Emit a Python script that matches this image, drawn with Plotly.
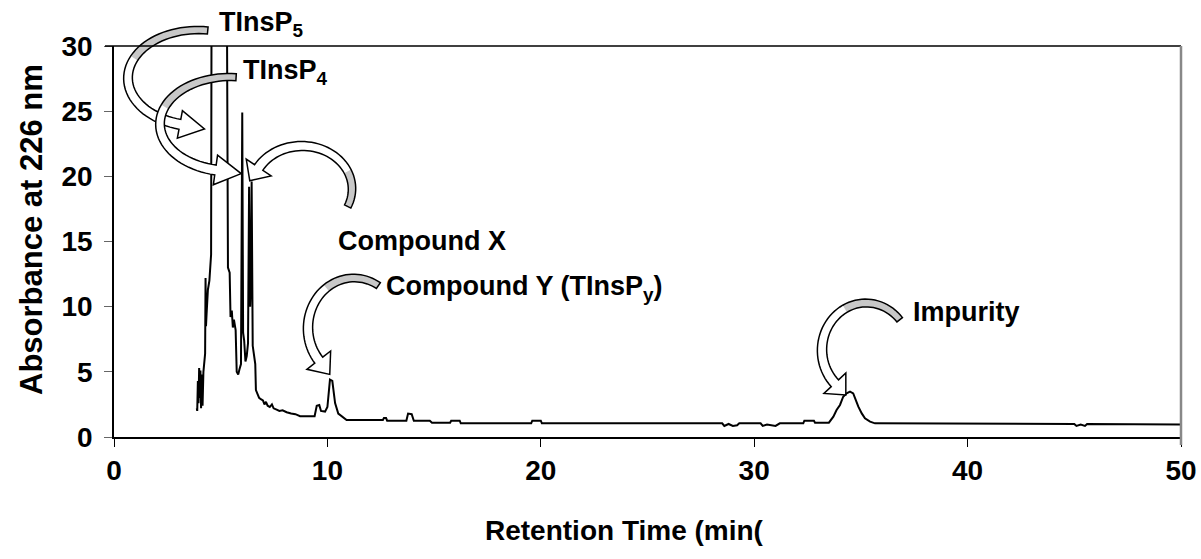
import numpy as np
import plotly.graph_objects as go

# ---------------- data ----------------
retention_time = [
    3.88, 3.90, 3.93, 3.96, 3.99, 4.02, 4.05, 4.08, 4.11, 4.15, 4.19, 4.24, 4.27,
    4.29, 4.31, 4.34, 4.40, 4.47, 4.55, 4.58, 5.00, 5.27, 5.30, 5.34, 5.42, 5.46,
    5.52, 5.57, 5.62, 5.70, 5.75, 5.82, 5.88, 5.95, 6.01, 6.05, 6.10, 6.16, 6.22,
    6.28, 6.33, 6.38, 6.42, 6.45, 6.50, 6.55, 6.62, 6.65, 6.72, 6.80, 6.88, 6.98,
    7.05, 7.12, 7.20, 7.30, 7.40, 7.48, 7.62, 7.75, 7.90, 8.09, 8.30, 8.50, 8.72,
    9.00, 9.40, 9.50, 9.62, 9.70, 9.89, 10.00, 10.12, 10.23, 10.30, 10.36, 10.51,
    10.75, 10.90, 12.60, 12.65, 12.75, 12.80, 13.70, 13.78, 13.95, 14.05, 14.80,
    14.90, 15.75, 15.80, 16.20, 16.25, 19.55, 19.60, 20.00, 20.05, 28.50, 28.60,
    28.80, 29.00, 29.20, 29.30, 30.30, 30.40, 30.60, 30.80, 31.00, 31.20, 32.30,
    32.35, 32.80, 32.85, 33.50, 33.71, 33.86, 34.02, 34.17, 34.33, 34.49, 34.64,
    34.72, 34.88, 35.04, 35.19, 35.43, 35.66, 45.00, 45.10, 45.30, 45.50, 45.60,
    50.00,
]
absorbance = [
    2.2, 2.0, 4.3, 2.6, 5.3, 3.0, 5.1, 2.2, 4.8, 2.4, 5.0, 6.0, 6.4,
    12.2, 8.5, 9.5, 11.3, 12.0, 14.0, 42.0, 45.0, 42.0, 24.0, 13.0, 12.6, 9.2,
    9.7, 8.4, 9.0, 8.2, 5.0, 4.8, 5.2, 5.6, 24.9, 8.0, 7.4, 5.8, 6.2,
    7.2, 19.2, 10.0, 12.0, 19.6, 7.0, 6.2, 5.6, 3.6, 3.3, 3.0, 2.9, 2.8,
    2.5, 2.7, 2.4, 2.3, 2.5, 2.2, 2.1, 2.0, 2.05, 1.9, 1.8, 1.75, 1.6,
    1.6, 1.6, 2.4, 2.45, 2.0, 1.95, 2.3, 4.4, 4.3, 3.2, 2.6, 1.8,
    1.45, 1.3, 1.3, 1.45, 1.45, 1.25, 1.25, 1.8, 1.75, 1.25, 1.25,
    1.1, 1.1, 1.25, 1.25, 1.05, 1.05, 1.25, 1.25, 1.05, 1.05, 0.85,
    1.0, 0.85, 0.9, 1.05, 1.05, 0.85, 0.95, 0.9, 0.85, 1.05, 1.05,
    1.25, 1.25, 1.1, 1.1, 1.56, 2.07, 2.46, 3.09, 3.35, 3.48, 3.35,
    2.97, 2.33, 1.81, 1.43, 1.18, 1.05, 1.0, 0.85, 0.95, 0.85, 1.0,
    0.95,
]
x_tick_values = [0, 10, 20, 30, 40, 50]
y_tick_values = [0, 5, 10, 15, 20, 25, 30]
x_title = "Retention Time (min("
y_title = "Absorbance at 226 nm"
peak_labels = ["TInsP<sub>5</sub>", "TInsP<sub>4</sub>", "Compound X",
               "Compound Y (TInsP<sub>y</sub>)", "Impurity"]

# ---------------- layout geometry ----------------
W_FIG, H_FIG = 1201, 559
M_L, M_R, M_T, M_B = 114, 20, 46, 122
PW = W_FIG - M_L - M_R
PH = H_FIG - M_T - M_B
FONT = "Liberation Sans, Arial, sans-serif"


def to_paper(px, py):
    return (px - M_L) / PW, 1 - (py - M_T) / PH


def path_str(points):
    parts = []
    for i, (px, py) in enumerate(points):
        xp, yp = to_paper(px, py)
        parts.append(("M" if i == 0 else "L") + f"{xp:.5f},{yp:.5f}")
    return " ".join(parts) + " Z"


def curved_arrow(cx, cy, rx, ry, t0, t1, w0=7, w1=10, head_w=30, head_len=22,
                 split=0.45, n=48):
    ts = np.radians(np.linspace(t0, t1, n))
    sgn = 1 if t1 > t0 else -1
    P = np.c_[cx + rx * np.cos(ts), cy + ry * np.sin(ts)]
    D = sgn * np.c_[-rx * np.sin(ts), ry * np.cos(ts)]
    D = D / np.linalg.norm(D, axis=1)[:, None]
    N = np.c_[-D[:, 1], D[:, 0]]
    w = np.linspace(w0, w1, n)[:, None] / 2
    left = P + N * w
    right = P - N * w
    pe, de, ne = P[-1], D[-1], N[-1]
    barb_l = pe + ne * head_w / 2
    barb_r = pe - ne * head_w / 2
    tip = pe + de * head_len
    outline = list(left) + [barb_l, tip, barb_r] + list(right[::-1])
    k = int(n * split)
    tail = list(left[:k]) + list(right[:k][::-1])
    return outline, tail


arrows = [
    dict(cx=198, cy=78, rx=70, ry=48, t0=-82, t1=-255, head_w=28, head_len=25),
    dict(cx=230, cy=124, rx=70, ry=47, t0=-85, t1=-258, head_w=30, head_len=26),
    dict(cx=302, cy=189, rx=50, ry=43, t0=24, t1=-150, head_w=30, head_len=16, split=0.3),
    dict(cx=354, cy=328, rx=46, ry=50, t0=-58, t1=-220, head_w=30, head_len=18),
    dict(cx=866, cy=350, rx=44, ry=47, t0=-40, t1=-225, head_w=30, head_len=16),
]

shapes = []
for a in arrows:
    outline, tail = curved_arrow(**a)
    shapes.append(dict(type="path", xref="paper", yref="paper", path=path_str(outline),
                       fillcolor="white", line=dict(width=0), layer="above"))
    shapes.append(dict(type="path", xref="paper", yref="paper", path=path_str(tail),
                       fillcolor="#c8c8c8", line=dict(width=0), layer="above"))
    shapes.append(dict(type="path", xref="paper", yref="paper", path=path_str(outline),
                       fillcolor="rgba(0,0,0,0)", line=dict(width=1.5, color="black"),
                       layer="above"))

# frame: top (black) and right (grey) borders
x_left_top, _ = to_paper(105, 0)
shapes.append(dict(type="line", xref="paper", yref="paper", x0=x_left_top, x1=1, y0=1, y1=1,
                   line=dict(color="black", width=1.5)))
_, y_bottom_r = to_paper(0, 445)
shapes.append(dict(type="line", xref="paper", yref="paper", x0=1, x1=1, y0=y_bottom_r, y1=1,
                   line=dict(color="#888888", width=2.5)))

label_pos = [(217, 24), (241, 72), (336, 241), (384, 288), (911, 312)]
annotations = []
for text, (px, py) in zip(peak_labels, label_pos):
    xp, yp = to_paper(px, py)
    annotations.append(dict(text=f"<b>{text}</b>", x=xp, y=yp, xref="paper", yref="paper",
                            xanchor="left", yanchor="middle", showarrow=False,
                            font=dict(family=FONT, size=27, color="black")))

# axis titles (placed as in the reference)
xt, yt = to_paper(624, 530)
annotations.append(dict(text=f"<b>{x_title}</b>", x=xt, y=yt, xref="paper", yref="paper",
                        xanchor="center", yanchor="middle", showarrow=False,
                        font=dict(family=FONT, size=28, color="black")))
xt, yt = to_paper(31, 230)
annotations.append(dict(text=f"<b>{y_title}</b>", x=xt, y=yt, xref="paper", yref="paper",
                        xanchor="center", yanchor="middle", showarrow=False, textangle=-90,
                        font=dict(family=FONT, size=31, color="black")))

fig = go.Figure()
fig.add_trace(go.Scatter(x=retention_time, y=absorbance, mode="lines",
                         line=dict(color="black", width=2), hoverinfo="skip",
                         showlegend=False))

fig.update_layout(
    width=W_FIG, height=H_FIG,
    margin=dict(l=M_L, r=M_R, t=M_T, b=M_B, autoexpand=False),
    paper_bgcolor="white", plot_bgcolor="white",
    font=dict(family=FONT, color="black"),
    shapes=shapes, annotations=annotations,
    xaxis=dict(range=[0, 50], tickvals=x_tick_values, ticks="outside", ticklen=8,
               tickcolor="black", tickwidth=1.2, showline=True, linecolor="black",
               linewidth=1.5, showgrid=False, zeroline=False, fixedrange=True,
               automargin=False,
               tickfont=dict(family=FONT, size=28, color="black", weight="bold")),
    yaxis=dict(range=[0, 30], tickvals=y_tick_values, ticks="outside", ticklen=8,
               tickcolor="#666666", tickwidth=1.2, showline=True, linecolor="black",
               linewidth=1.5, showgrid=False, zeroline=False, fixedrange=True,
               automargin=False, ticklabelstandoff=6,
               tickfont=dict(family=FONT, size=28, color="black", weight="bold")),
)

fig.write_html("out.html", config={"displayModeBar": False},
               post_script="document.body.style.margin='0';")
